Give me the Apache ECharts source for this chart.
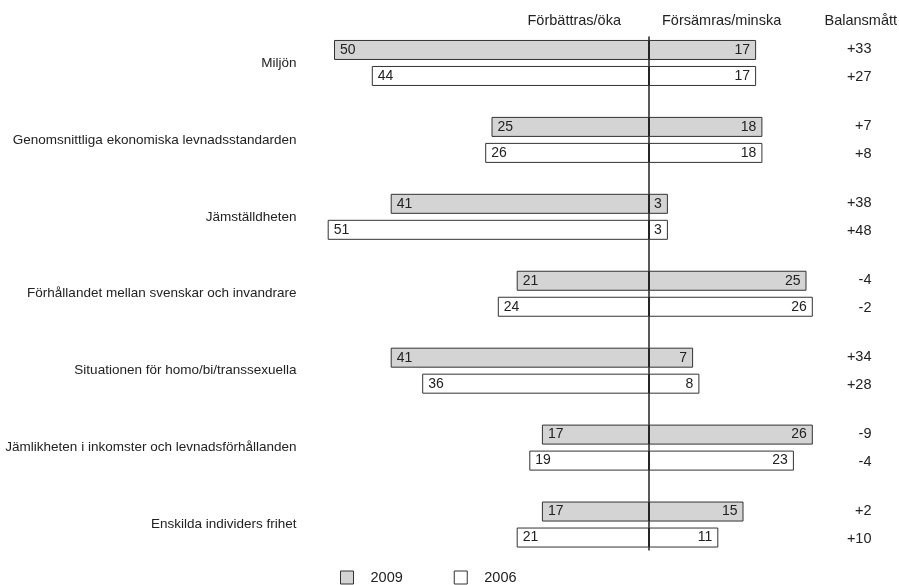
<!DOCTYPE html>
<html><head><meta charset="utf-8">
<script src="https://cdn.jsdelivr.net/npm/echarts@6/dist/echarts.min.js"></script>
<style>html,body{margin:0;padding:0;background:#fff}#c{width:899px;height:585px}</style>
</head><body><div id="c"></div>
<script>
const categories = ['Miljön','Genomsnittliga ekonomiska levnadsstandarden','Jämställdheten','Förhållandet mellan svenskar och invandrare','Situationen för homo/bi/transsexuella','Jämlikheten i inkomster och levnadsförhållanden','Enskilda individers frihet'];
const better2009 = [50,25,41,21,41,17,17];
const worse2009  = [17,18,3,25,7,26,15];
const better2006 = [44,26,51,24,36,19,21];
const worse2006  = [17,18,3,26,8,23,11];
const balance2009 = [33,7,38,-4,34,-9,2];
const balance2006 = [27,8,48,-2,28,-4,10];
const headers = ['Förbättras/öka','Försämras/minska','Balansmått'];
const years = ['2009','2006'];

const FONT = "'Liberation Sans', Arial, Helvetica, sans-serif";
const TXT = '#222';
const fmtSign = v => (v > 0 ? '+' : '') + v;
const absFmt = p => Math.abs(p.value);

function barSeries(name, stack, data, fill, pos) {
  return {
    name, type: 'bar', stack, data,
    barWidth: 20, barGap: '30%',
    itemStyle: { color: fill, borderColor: '#333', borderWidth: 1 },
    label: { show: true, position: pos, distance: 6, formatter: absFmt, color: TXT, fontSize: 14, fontFamily: FONT },
    emphasis: { disabled: true }
  };
}
const headStyle = { fontSize: 14.5, fontWeight: 'normal', color: TXT, fontFamily: FONT };

const chart = echarts.init(document.getElementById('c'));
chart.setOption({
  animation: false,
  textStyle: { fontFamily: FONT, color: TXT },
  title: [
    { text: headers[0], right: 278, top: 13, padding: 0, textStyle: headStyle },
    { text: headers[1], left: 662, top: 13, padding: 0, textStyle: headStyle },
    { text: headers[2], right: 2, top: 13, padding: 0, textStyle: headStyle }
  ],
  legend: {
    data: years, left: 340, top: 570, padding: 0, icon: 'rect', itemWidth: 13, itemHeight: 13, itemGap: 51,
    itemStyle: { borderColor: '#333', borderWidth: 1 },
    textStyle: { fontSize: 14.5, color: TXT, fontFamily: FONT, padding: [0, 0, 0, 12] },
    selectedMode: false
  },
  grid: [
    { left: 302.5, right: 29.5, top: 24.5, height: 538.5 },
    { left: 302.5, right: 29.5, top: 37, bottom: 35 }
  ],
  xAxis: [
    { type: 'value', gridIndex: 0, min: -55, max: 35, show: false },
    { type: 'value', gridIndex: 1, min: -55, max: 35, show: false }
  ],
  yAxis: [
    { type: 'category', gridIndex: 0, data: categories, inverse: true,
      axisLine: { show: false }, axisTick: { show: false },
      axisLabel: { color: TXT, fontSize: 13.5, margin: 6, fontFamily: FONT, padding: [0, 0, 2, 0] } },
    { type: 'category', gridIndex: 0, data: categories, inverse: true, position: 'right',
      axisLine: { show: false }, axisTick: { show: false },
      axisLabel: { color: TXT, fontSize: 14.5, margin: 2, align: 'right', lineHeight: 28, fontFamily: FONT, padding: [0, 0, 2, 0],
        formatter: (v, i) => fmtSign(balance2009[i]) + '\n' + fmtSign(balance2006[i]) } },
    { type: 'value', gridIndex: 1, min: 0, max: 1, z: 10,
      axisLine: { show: true, onZero: true, lineStyle: { color: '#222', width: 1.5 } },
      axisTick: { show: false }, axisLabel: { show: false }, splitLine: { show: false } }
  ],
  series: [
    barSeries(years[0], 's2009', better2009.map(v => -v), '#d4d4d4', 'insideLeft'),
    barSeries(years[0], 's2009', worse2009, '#d4d4d4', 'insideRight'),
    barSeries(years[1], 's2006', better2006.map(v => -v), '#ffffff', 'insideLeft'),
    barSeries(years[1], 's2006', worse2006, '#ffffff', 'insideRight')
  ]
});
</script>
</body></html>
